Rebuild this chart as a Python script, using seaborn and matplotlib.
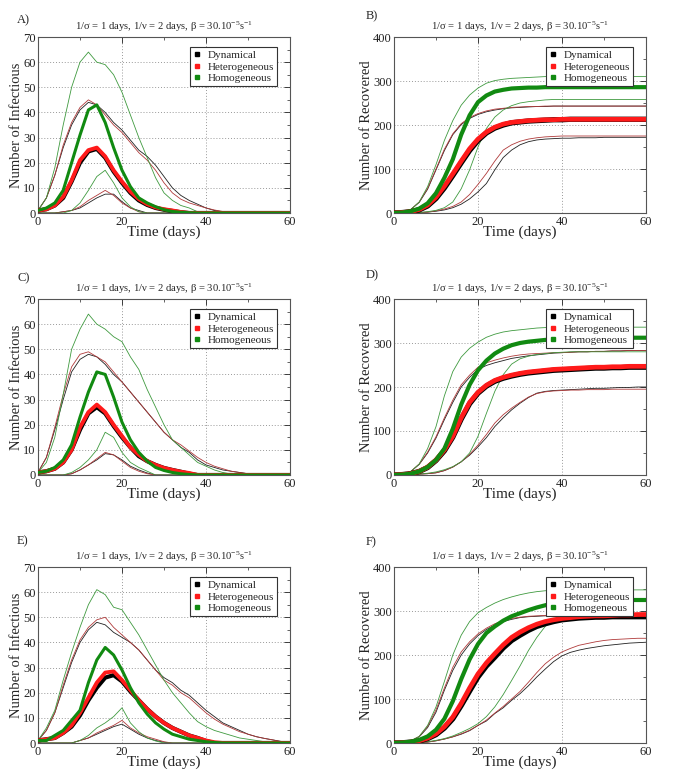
import matplotlib
matplotlib.use("Agg")
import matplotlib.pyplot as plt
from matplotlib.lines import Line2D
from matplotlib.ticker import MultipleLocator
import seaborn as sns

# ---------------- data ----------------
days = [0, 2, 4, 6, 8, 10, 12, 14, 16, 18, 20, 22, 24, 26, 28, 30,
        32, 34, 36, 38, 40, 42, 44, 46, 48, 50, 52, 54, 56, 58, 60]

series_names = ["Dynamical", "Heterogeneous", "Homogeneous"]
panel_letters = ["A)", "B)", "C)", "D)", "E)", "F)"]
title_text = r"1/σ = 1 days, 1/ν = 2 days, β = 30.10$^{-5}$s$^{-1}$"
ylabel_inf = "Number of Infectious"
ylabel_rec = "Number of Recovered"
xlabel_txt = "Time (days)"
xticks_vals = [0, 20, 40, 60]
yticks_inf = [0, 10, 20, 30, 40, 50, 60, 70]
yticks_rec = [0, 100, 200, 300, 400]

# Panel A - infectious
A_dyn_mean = [1, 1.5, 3, 6, 12.5, 20, 24.5, 25.5, 22, 16.5, 12, 8, 5, 3.2, 2, 1.3, 0.8, 0.3, 0, 0, 0, 0, 0, 0, 0, 0, 0, 0, 0, 0, 0]
A_het_mean = [1, 1.5, 3, 6.5, 13, 21, 25, 26, 22.5, 17, 12.5, 8.5, 5.5, 3.5, 2.2, 1.5, 1, 0.4, 0, 0, 0, 0, 0, 0, 0, 0, 0, 0, 0, 0, 0]
A_hom_mean = [1, 2, 4, 9, 20, 31, 41, 43, 36, 26, 17, 10.5, 6, 4, 2.5, 1.3, 0.6, 0.3, 0.1, 0, 0, 0, 0, 0, 0, 0, 0, 0, 0, 0, 0]
A_dyn_hi = [1, 6, 15, 26, 35, 41, 44, 43, 40, 36, 33, 29, 25, 22.5, 19, 14.5, 10, 7, 5, 3.5, 2, 1, 0.5, 0, 0, 0, 0, 0, 0, 0, 0]
A_het_hi = [1, 6, 15, 27, 36, 42, 45, 43, 39, 35, 32, 28, 24, 21, 17, 12, 8, 5.5, 4, 3, 2, 1.2, 0.6, 0.3, 0, 0, 0, 0, 0, 0, 0]
A_hom_hi = [1, 6, 18, 35, 50, 60, 64, 60, 59, 55, 48, 39, 30, 22, 14, 8, 5, 3, 2, 0.5, 0, 0, 0, 0, 0, 0, 0, 0, 0, 0, 0]
A_dyn_lo = [0, 0, 0, 0.5, 1, 2, 4, 6, 7.5, 7.5, 4.5, 2, 1, 0, 0, 0, 0, 0, 0, 0, 0, 0, 0, 0, 0, 0, 0, 0, 0, 0, 0]
A_het_lo = [0, 0, 0, 0.5, 1, 2.5, 5, 7, 9, 7, 4, 2, 0.5, 0, 0, 0, 0, 0, 0, 0, 0, 0, 0, 0, 0, 0, 0, 0, 0, 0, 0]
A_hom_lo = [0, 0, 0, 0, 1, 4, 9, 14.5, 17, 12, 6, 2.5, 0.5, 0, 0, 0, 0, 0, 0, 0, 0, 0, 0, 0, 0, 0, 0, 0, 0, 0, 0]

# Panel B - recovered
B_dyn_mean = [0, 1, 3, 7, 16, 33, 57, 85, 114, 142, 165, 182, 193, 200, 205, 207, 209, 210, 211, 212, 212, 213, 213, 213, 213, 213, 213, 213, 213, 213, 213]
B_het_mean = [0, 1, 3, 8, 18, 36, 61, 89, 118, 146, 168, 184, 195, 202, 206, 208, 210, 211, 212, 212, 213, 213, 213, 213, 213, 213, 213, 213, 213, 213, 213]
B_hom_mean = [0, 1, 4, 10, 22, 45, 80, 122, 178, 222, 252, 267, 276, 280, 283, 284, 285, 285, 286, 286, 286, 286, 286, 286, 286, 286, 286, 286, 286, 286, 286]
B_dyn_hi = [0, 2, 8, 24, 54, 98, 142, 178, 201, 215, 224, 230, 234, 237, 239, 240, 241, 242, 242, 243, 243, 243, 243, 243, 243, 243, 243, 243, 243, 243, 243]
B_het_hi = [0, 2, 8, 25, 56, 100, 145, 180, 203, 217, 226, 232, 236, 238, 240, 241, 242, 242, 243, 243, 243, 243, 243, 243, 243, 243, 243, 243, 243, 243, 243]
B_hom_hi = [0, 2, 8, 25, 60, 110, 165, 210, 245, 268, 284, 295, 301, 304, 306, 307, 308, 309, 310, 310, 310, 310, 310, 310, 310, 310, 310, 310, 310, 310, 310]
B_dyn_lo = [0, 0, 0.5, 1, 2, 4, 7, 12, 20, 32, 48, 67, 98, 126, 143, 155, 162, 166, 168, 169, 170, 170, 171, 171, 171, 172, 172, 172, 172, 172, 172]
B_het_lo = [0, 0, 0.5, 1, 2, 5, 9, 15, 25, 42, 65, 90, 118, 143, 155, 163, 168, 171, 173, 174, 175, 175, 175, 175, 175, 175, 175, 175, 175, 175, 175]
B_hom_lo = [0, 0, 0, 1, 3, 6, 12, 25, 55, 98, 150, 192, 218, 234, 244, 250, 253, 255, 257, 258, 258, 258, 258, 258, 258, 258, 258, 258, 258, 258, 258]

# Panel C - infectious
C_dyn_mean = [1, 1.5, 2.5, 5, 10, 18, 24.5, 27, 24.5, 19.5, 15, 11, 7.5, 5.5, 4, 2.8, 2, 1.3, 0.5, 0, 0, 0, 0, 0, 0, 0, 0, 0, 0, 0, 0]
C_het_mean = [1, 1.5, 2.5, 5, 10, 19, 25, 28, 25, 20, 15.5, 11, 8, 5.5, 4, 2.8, 2, 1.3, 0.8, 0, 0, 0, 0, 0, 0, 0, 0, 0, 0, 0, 0]
C_hom_mean = [1, 1.5, 3, 6, 12, 23, 33, 41, 40, 31, 21, 14, 9, 5.5, 3, 1.8, 1, 0.5, 0.2, 0, 0, 0, 0, 0, 0, 0, 0, 0, 0, 0, 0]
C_dyn_hi = [1, 7, 18, 30, 41, 46, 48, 47, 44, 40, 37, 33, 29, 25, 21, 17, 14, 11, 9, 6, 4, 3, 2, 1.5, 1, 0.5, 0, 0, 0, 0, 0]
C_het_hi = [1, 7, 19, 32, 43, 48, 49, 47, 45, 41, 37, 33, 29, 25, 21, 17, 14, 12, 9.5, 7, 5, 3.5, 2.5, 1.5, 1, 0.5, 0.3, 0, 0, 0, 0]
C_hom_hi = [1, 5, 15, 32, 50, 58, 64, 60, 58, 55, 53, 47, 42, 34, 27, 20, 14, 11, 8, 5, 3.5, 2, 1, 0.4, 0, 0, 0, 0, 0, 0, 0]
C_dyn_lo = [0, 0, 0, 0, 0.5, 2, 4, 6, 8.5, 8, 6, 3.5, 2, 0.8, 0, 0, 0, 0, 0, 0, 0, 0, 0, 0, 0, 0, 0, 0, 0, 0, 0]
C_het_lo = [0, 0, 0, 0, 0.5, 2, 4, 6.5, 9, 8, 5.5, 3, 1.5, 0.5, 0, 0, 0, 0, 0, 0, 0, 0, 0, 0, 0, 0, 0, 0, 0, 0, 0]
C_hom_lo = [0, 0, 0, 0, 1, 3, 6, 10, 17, 15, 9, 5, 3, 1.5, 0, 0, 0, 0, 0, 0, 0, 0, 0, 0, 0, 0, 0, 0, 0, 0, 0]

# Panel D - recovered
D_dyn_mean = [0, 1, 3, 8, 17, 33, 55, 86, 127, 162, 186, 202, 213, 220, 225, 229, 232, 234, 236, 238, 239, 240, 241, 242, 243, 243, 244, 244, 245, 245, 245]
D_het_mean = [0, 1, 3, 8, 18, 34, 57, 88, 130, 165, 188, 204, 215, 222, 227, 231, 234, 236, 238, 240, 241, 242, 243, 244, 245, 245, 246, 246, 247, 247, 247]
D_hom_mean = [0, 1, 3, 8, 18, 34, 60, 105, 160, 205, 238, 260, 276, 287, 295, 300, 303, 305, 307, 308, 309, 310, 310, 311, 311, 311, 312, 312, 312, 312, 312]
D_dyn_hi = [0, 2, 8, 24, 50, 84, 126, 165, 200, 222, 240, 249, 255, 260, 265, 268, 271, 273, 275, 277, 278, 279, 280, 280, 281, 281, 282, 282, 283, 283, 283]
D_het_hi = [0, 2, 8, 25, 52, 87, 130, 170, 205, 227, 245, 255, 261, 266, 270, 273, 275, 276, 277, 278, 278, 279, 280, 280, 281, 281, 282, 282, 283, 283, 283]
D_hom_hi = [0, 2, 8, 25, 60, 110, 180, 235, 268, 288, 302, 313, 320, 325, 328, 330, 332, 334, 335, 336, 336, 336, 336, 336, 336, 336, 336, 336, 336, 336, 336]
D_dyn_lo = [0, 0, 1, 2, 3, 5, 10, 18, 30, 45, 64, 85, 110, 130, 148, 163, 176, 186, 190, 192, 193, 194, 195, 196, 197, 197, 198, 199, 199, 200, 200]
D_het_lo = [0, 0, 1, 2, 3, 5, 10, 18, 30, 47, 68, 92, 118, 137, 152, 165, 177, 185, 189, 191, 192, 193, 193, 194, 194, 194, 195, 195, 195, 195, 195]
D_hom_lo = [0, 0, 1, 2, 4, 7, 12, 19, 30, 50, 88, 140, 190, 228, 252, 264, 270, 274, 276, 278, 279, 280, 280, 280, 280, 280, 280, 280, 280, 280, 280]

# Panel E - infectious
E_dyn_mean = [1, 1.5, 2, 4, 6.5, 11, 17, 22, 26, 27, 24.5, 20.5, 17, 13.5, 10.5, 8, 6, 4.5, 3, 2, 0.8, 0, 0, 0, 0, 0, 0, 0, 0, 0, 0]
E_het_mean = [1, 1.5, 2, 4, 7, 12, 18, 24, 28, 28.5, 25, 21, 17, 13.5, 10.5, 8, 6, 4.5, 3, 2, 1, 0.3, 0, 0, 0, 0, 0, 0, 0, 0, 0]
E_hom_mean = [1, 1, 3, 5, 9, 13, 24, 33, 38, 35, 29, 22, 16, 11.5, 8, 5.5, 3.5, 2.5, 1.5, 1, 0.5, 0.2, 0, 0, 0, 0, 0, 0, 0, 0, 0]
E_dyn_hi = [1, 5, 12, 22, 32, 40, 45, 48, 47, 44, 42, 40, 37, 33, 29, 26, 24, 21, 19, 16, 13, 10.5, 8, 6.5, 5, 3.5, 2.5, 1.8, 1.2, 0.6, 0.3]
E_het_hi = [1, 5, 12, 23, 33, 41, 46, 49, 50, 46, 43, 40, 37, 33, 29, 25, 23, 20, 18, 15, 12, 9.5, 7.5, 6, 4.5, 3.5, 2.5, 1.8, 1.2, 0.5, 0.2]
E_hom_hi = [1, 6, 13, 25, 36, 46, 55, 61, 59, 54, 53, 48, 43, 37, 31, 25, 20, 16, 12, 8.5, 6.5, 5, 4, 3, 2, 1.5, 1, 0.5, 0, 0, 0]
E_dyn_lo = [0, 0, 0, 0, 0, 1, 2, 3.5, 5, 6.5, 7.5, 5.5, 3.5, 2, 1, 0.3, 0, 0, 0, 0, 0, 0, 0, 0, 0, 0, 0, 0, 0, 0, 0]
E_het_lo = [0, 0, 0, 0, 0, 1, 2, 4, 5.5, 7, 9, 6, 4, 2.5, 1.5, 0.5, 0, 0, 0, 0, 0, 0, 0, 0, 0, 0, 0, 0, 0, 0, 0]
E_hom_lo = [0, 0, 0, 0, 0, 1, 3, 6, 8, 10.5, 14, 8, 4.5, 2, 0.8, 0, 0, 0, 0, 0, 0, 0, 0, 0, 0, 0, 0, 0, 0, 0, 0]

# Panel F - recovered
F_dyn_mean = [0, 0.5, 2, 4.5, 10, 19, 34, 55, 85, 118, 150, 175, 195, 216, 233, 245, 256, 265, 271, 276, 280, 282, 284, 285, 286, 286, 287, 287, 287, 287, 287]
F_het_mean = [0, 0.5, 2, 5, 11, 21, 37, 59, 90, 125, 157, 182, 203, 223, 240, 252, 262, 270, 276, 280, 283, 285, 287, 288, 289, 289, 290, 291, 291, 292, 292]
F_hom_mean = [0, 1, 3, 7, 15, 30, 55, 95, 145, 190, 225, 250, 265, 278, 288, 295, 302, 308, 313, 317, 319, 320, 321, 322, 323, 323, 324, 324, 325, 325, 325]
F_dyn_hi = [0, 1, 5, 14, 35, 70, 120, 165, 200, 225, 244, 258, 268, 276, 281, 285, 287, 288, 289, 290, 290, 290, 290, 290, 290, 290, 290, 290, 290, 290, 290]
F_het_hi = [0, 1, 5, 15, 38, 75, 125, 172, 207, 230, 248, 261, 271, 278, 283, 286, 288, 289, 290, 290, 290, 290, 290, 290, 290, 290, 290, 290, 290, 290, 290]
F_hom_hi = [0, 1, 5, 15, 40, 82, 140, 200, 245, 276, 296, 308, 318, 326, 332, 337, 341, 344, 346, 347, 348, 348, 348, 348, 348, 348, 348, 348, 348, 348, 348]
F_dyn_lo = [0, 0, 0.5, 1, 2, 5, 9, 14, 20, 28, 40, 50, 67, 80, 97, 112, 130, 150, 168, 185, 198, 206, 211, 215, 218, 221, 223, 225, 227, 228, 229]
F_het_lo = [0, 0, 0.5, 1, 2, 5, 9, 14, 21, 29, 40, 52, 68, 83, 100, 117, 138, 160, 180, 195, 207, 215, 222, 226, 230, 233, 235, 236, 237, 238, 238]
F_hom_lo = [0, 0, 0.5, 1, 3, 6, 10, 16, 24, 33, 44, 60, 82, 110, 142, 175, 210, 240, 265, 280, 287, 290, 291, 292, 292, 292, 292, 292, 292, 292, 292]

panels = [
    dict(mean=(A_dyn_mean, A_het_mean, A_hom_mean), hi=(A_dyn_hi, A_het_hi, A_hom_hi), lo=(A_dyn_lo, A_het_lo, A_hom_lo), kind="inf"),
    dict(mean=(B_dyn_mean, B_het_mean, B_hom_mean), hi=(B_dyn_hi, B_het_hi, B_hom_hi), lo=(B_dyn_lo, B_het_lo, B_hom_lo), kind="rec"),
    dict(mean=(C_dyn_mean, C_het_mean, C_hom_mean), hi=(C_dyn_hi, C_het_hi, C_hom_hi), lo=(C_dyn_lo, C_het_lo, C_hom_lo), kind="inf"),
    dict(mean=(D_dyn_mean, D_het_mean, D_hom_mean), hi=(D_dyn_hi, D_het_hi, D_hom_hi), lo=(D_dyn_lo, D_het_lo, D_hom_lo), kind="rec"),
    dict(mean=(E_dyn_mean, E_het_mean, E_hom_mean), hi=(E_dyn_hi, E_het_hi, E_hom_hi), lo=(E_dyn_lo, E_het_lo, E_hom_lo), kind="inf"),
    dict(mean=(F_dyn_mean, F_het_mean, F_hom_mean), hi=(F_dyn_hi, F_het_hi, F_hom_hi), lo=(F_dyn_lo, F_het_lo, F_hom_lo), kind="rec"),
]

# ---------------- style ----------------
sns.set_style("white")
plt.rcParams["font.family"] = ["Liberation Serif", "DejaVu Serif"]
plt.rcParams["mathtext.fontset"] = "custom"
plt.rcParams["mathtext.rm"] = "Liberation Serif"
plt.rcParams["mathtext.it"] = "Liberation Serif:italic"

W, H = 685, 782
fig = plt.figure(figsize=(W / 100, H / 100), dpi=100)

mean_colors = ["#000000", "#ff1a1a", "#118a11"]
thin_colors = ["#202020", "#b03a3a", "#3f9a3f"]

ax_left = [38, 394]
ax_top = [37, 299, 567]
ax_w, ax_h = 252, 176
label_pos = [(17, 20), (366, 16), (17, 278), (366, 275), (17, 541), (366, 542)]

for i, p in enumerate(panels):
    row, col = divmod(i, 2)
    l = ax_left[col]
    t = ax_top[row]
    ax = fig.add_axes([l / W, 1 - (t + ax_h) / H, ax_w / W, ax_h / H])
    ax.set_facecolor("white")

    # thin envelope lines
    for k in range(3):
        for arr in (p["hi"][k], p["lo"][k]):
            sns.lineplot(x=days, y=arr, ax=ax, color=thin_colors[k], linewidth=0.6,
                         legend=False, zorder=2)
    # mean curves
    if p["kind"] == "inf":
        widths = [3.0, 2.8, 2.2]
    else:
        widths = [3.8, 3.4, 3.0]
    for k in range(3):
        sns.lineplot(x=days, y=p["mean"][k], ax=ax, color=mean_colors[k],
                     linewidth=widths[k], legend=False, zorder=3 + k)

    ax.set_xlim(0, 60)
    if p["kind"] == "inf":
        ax.set_ylim(0, 70)
        ax.set_yticks(yticks_inf)
        ax.yaxis.set_minor_locator(MultipleLocator(5))
        ax.set_ylabel(ylabel_inf, fontsize=10.5)
        ax.yaxis.set_label_coords(-0.06, 0.5)
    else:
        ax.set_ylim(0, 400)
        ax.set_yticks(yticks_rec)
        ax.yaxis.set_minor_locator(MultipleLocator(50))
        ax.set_ylabel(ylabel_rec, fontsize=10.5)
        ax.yaxis.set_label_coords(-0.083, 0.5)
    ax.set_xticks(xticks_vals)
    ax.xaxis.set_minor_locator(MultipleLocator(10))
    ax.set_xlabel(xlabel_txt, fontsize=11)
    ax.xaxis.set_label_coords(0.5, -0.07)

    ax.tick_params(which="both", direction="in", top=True, right=True,
                   labelsize=9, colors="#222222")
    ax.tick_params(which="major", length=4, width=0.6)
    ax.tick_params(which="minor", length=2, width=0.5)
    ax.tick_params(axis="y", pad=1.5)
    ax.tick_params(axis="x", pad=2.5)
    ax.grid(True, which="major", linestyle=(0, (1, 2)), color="#999999", linewidth=0.7)
    for s in ax.spines.values():
        s.set_color("#555555")
        s.set_linewidth(0.8)

    ax.set_title(title_text, fontsize=7.7, pad=5)

    handles = [Line2D([], [], marker="s", linestyle="", color=c, markersize=2.6)
               for c in mean_colors]
    leg = ax.legend(handles, series_names, loc="upper right",
                    bbox_to_anchor=(1 - 13 / ax_w, 1 - 10 / ax_h), borderaxespad=0,
                    fontsize=8, frameon=True, fancybox=False, borderpad=0.3,
                    labelspacing=0.15, handlelength=0.8, handletextpad=0.5)
    leg.get_frame().set_edgecolor("#333333")
    leg.get_frame().set_linewidth(0.8)
    leg.get_frame().set_alpha(1)
    leg.set_zorder(10)

    lx, ly = label_pos[i]
    fig.text(lx / W, 1 - ly / H, panel_letters[i], fontsize=9, ha="left", va="center")

fig.savefig("out.png", dpi=100, facecolor="white")
